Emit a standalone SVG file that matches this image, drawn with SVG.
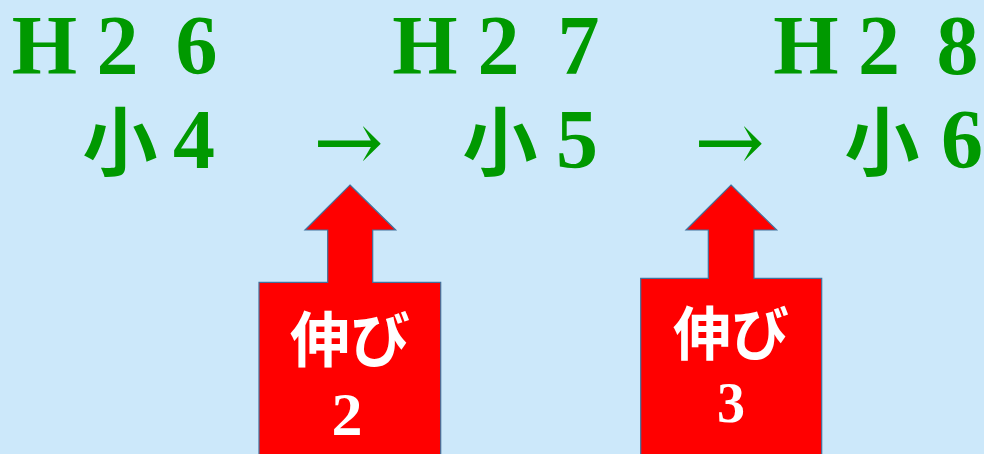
<svg xmlns="http://www.w3.org/2000/svg" width="984" height="454" viewBox="0 0 984 454">
<style>
.g{fill:#009900;font-family:"Liberation Serif","DejaVu Serif",serif;font-weight:bold;text-anchor:middle}
.h{font-size:84px}
.k{font-family:"Noto Sans CJK JP","Noto Sans CJK SC",sans-serif;font-size:75px;font-weight:bold}
.ar{font-family:"DejaVu Serif",serif;font-weight:normal;font-size:84px}
.blk{fill:#FF0000;stroke:#41719C;stroke-width:1.2}
.w{fill:#FFFFFF;text-anchor:middle;font-weight:bold}
.wk{font-family:"Noto Sans CJK JP","Noto Sans CJK SC",sans-serif;font-size:60px}
.wd{font-family:"Liberation Serif",serif;font-size:62px}
</style>
<rect x="0" y="0" width="984" height="454" fill="#CCE8FA"/>
<g id="years">
<text class="g h" y="74"><tspan x="44.5">H</tspan><tspan x="117.5">2</tspan><tspan x="196.5">6</tspan></text>
<text class="g h" y="74"><tspan x="425">H</tspan><tspan x="498.5">2</tspan><tspan x="578.5">7</tspan></text>
<text class="g h" y="74"><tspan x="806">H</tspan><tspan x="879">2</tspan><tspan x="957.5">8</tspan></text>
</g>
<g id="grade4"><text class="g k" x="120" y="170">小</text><text class="g h" x="194" y="168">4</text></g>
<g id="grade5"><text class="g k" x="500" y="170">小</text><text class="g h" x="577" y="168">5</text></g>
<g id="grade6"><text class="g k" x="882" y="170">小</text><text class="g h" x="962" y="168">6</text></g>
<g id="connectors">
<text class="g ar" x="348.5" y="171">→</text>
<text class="g ar" x="729.5" y="171">→</text>
</g>
<g id="nobi2">
<path class="blk" d="M350,185 L395.7,230 L372.7,230 L372.7,282.3 L440.7,282.3 L440.7,460 L259,460 L259,282.3 L327.7,282.3 L327.7,230 L305,230 Z"/>
<text class="w wk" x="350" y="362">伸び</text>
<text class="w wd" x="347" y="435">2</text>
</g>
<g id="nobi3">
<path class="blk" d="M731,185 L776.7,230 L754,230 L754,278.3 L821.7,278.3 L821.7,460 L640.7,460 L640.7,278.3 L708.3,278.3 L708.3,230 L686,230 Z"/>
<text class="w wk" x="731" y="355" style="font-size:58px">伸び</text>
<text class="w wd" x="731" y="422" style="font-size:56px">3</text>
</g>
</svg>
